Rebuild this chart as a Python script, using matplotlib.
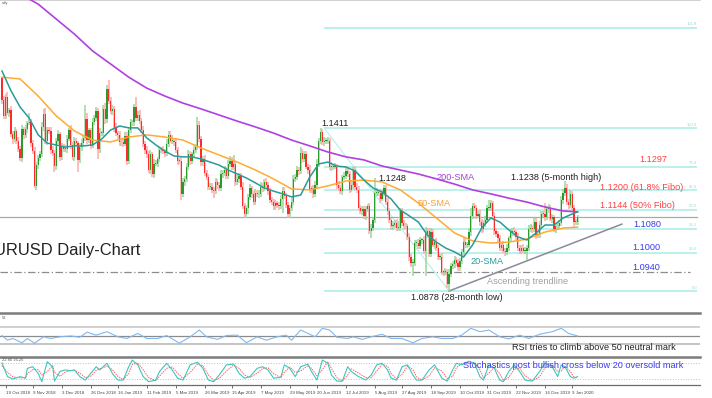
import matplotlib
matplotlib.use("Agg")
import matplotlib.pyplot as plt
import numpy as np

plt.rcParams['font.family'] = ['Liberation Sans', 'DejaVu Sans']

# ---- daily candles (prices x 1e4), 17 Oct 2018 -> 10 Jan 2020 ----
open0 = 11575
closes = [
    11503, 11452, 11513, 11462, 11470, 11392, 11375, 11402, 11370, 11343, 11312,
    11407, 11388, 11407, 11428, 11430, 11362, 11335, 11223, 11290, 11312, 11327,
    11416, 11456, 11370, 11405, 11403, 11338, 11330, 11288, 11370, 11392, 11316,
    11350, 11343, 11344, 11376, 11405, 11355, 11318, 11370, 11362, 11306, 11348,
    11362, 11380, 11442, 11372, 11404, 11354, 11431, 11443, 11467,
    11342, 11395, 11395, 11475, 11440, 11540, 11500, 11468, 11475, 11410, 11395,
    11390, 11365, 11365, 11360, 11385, 11305, 11405, 11430, 11430, 11480, 11445,
    11455, 11435, 11405, 11360, 11340, 11325, 11275, 11325, 11260, 11295, 11295,
    11310, 11340, 11340, 11335, 11330, 11360, 11390, 11370, 11370,
    11365, 11340, 11305, 11305, 11195, 11235, 11245, 11285, 11325, 11305, 11325,
    11340, 11350, 11420, 11375, 11300, 11310, 11265, 11250, 11220, 11220,
    11210, 11205, 11235, 11225, 11215, 11260, 11265, 11275, 11255, 11295, 11305,
    11285, 11295, 11235, 11245, 11255, 11220, 11155, 11130, 11150, 11185, 11215,
    11195, 11170, 11200, 11195, 11195, 11220, 11215, 11235, 11225, 11205, 11175,
    11170, 11155, 11165, 11160, 11155, 11180, 11205, 11190, 11160, 11130, 11150, 11170,
    11245, 11250, 11275, 11270, 11330, 11310, 11325, 11285, 11275, 11210, 11215,
    11195, 11225, 11295, 11370, 11400, 11365, 11370, 11370, 11370,
    11285, 11285, 11285, 11285, 11225, 11215, 11205, 11250, 11255, 11270, 11260,
    11210, 11225, 11275, 11220, 11210, 11150, 11140, 11145, 11125, 11145, 11155, 11075,
    11085, 11110, 11200, 11200, 11200, 11180, 11200, 11215, 11170, 11140, 11110,
    11090, 11095, 11100, 11085, 11085, 11140, 11100, 11090, 11090, 11055, 10990,
    10970, 10970, 11035, 11035, 11025, 11045, 11045, 11010, 11065, 11075, 11000,
    11070, 11030, 11040, 11020, 10990, 10990, 10940, 10940, 10940, 10900,
    10935, 10960, 10965, 10980, 10970, 10955, 10975, 11005, 11040, 11030, 11030,
    11070, 11125, 11155, 11150, 11125, 11130, 11105, 11080, 11100, 11110, 11150, 11150,
    11165, 11125, 11075, 11065, 11050, 11020, 11030, 11010, 11005, 11020, 11050,
    11070, 11075, 11070, 11055, 11020, 11010, 11020, 11010, 11010, 11020,
    11080, 11085, 11080, 11105, 11060, 11065, 11095, 11130, 11130, 11120, 11145,
    11150, 11115, 11120, 11080, 11090, 11090, 11100, 11175, 11200, 11215,
    11170, 11160, 11195, 11150, 11105, 11105, 11120,
]
wick_up = [
    5, 12, 10, 15, 8, 14, 9, 12, 7, 11, 10, 13, 9, 15, 8, 30, 12, 10, 14, 9,
    11, 8, 16, 17, 22, 10, 9, 12, 14, 8, 10, 13, 7, 12, 9, 11, 14, 8, 16, 10,
    12, 9, 8, 15, 13, 10, 44, 18, 9, 8, 14, 10, 12, 9, 16, 8, 11, 20, 12, 30,
    14, 11, 9, 18, 8, 12, 10, 9, 13, 15, 10, 12, 8, 9, 34, 11, 14, 10, 12, 9,
    12, 10, 16, 9, 14, 11, 8, 13, 10, 12, 9, 14, 11, 12, 17, 10, 13, 9, 8, 15,
    12, 9, 11, 14, 10, 8, 12, 9, 28, 16, 10, 9, 13, 8, 11, 10, 12, 9, 14, 11,
    10, 13, 9, 12, 8, 11, 14, 10, 29, 9, 12, 8, 10, 14, 11, 9, 12, 13, 8, 10,
    11, 9, 12, 14, 10, 8, 13, 9, 11, 10, 8, 12, 9, 10, 11, 14, 12, 9, 10, 8,
    11, 14, 10, 12, 9, 18, 13, 10, 12, 9, 14, 8, 11, 12, 16, 10, 13, 9, 12, 10,
    11, 9, 14, 10, 12, 8, 13, 10, 9, 12, 14, 11, 10, 12, 9, 13, 10, 11, 8, 12,
    10, 12, 9, 11, 13, 10, 49, 14, 9, 12, 10, 11, 9, 13, 10, 8, 12, 9, 14, 22,
    10, 11, 9, 12, 8, 14, 10, 12, 9, 11, 13, 10, 8, 12, 22, 10, 9, 13, 11, 8,
    12, 9, 10, 11, 8, 13, 9, 14, 11, 10, 12, 9, 13, 10, 11, 14, 12, 10, 13, 24,
    10, 12, 9, 11, 13, 8, 10, 12, 9, 25, 11, 9, 12, 10, 8, 11, 9, 13, 10, 12,
    9, 11, 10, 12, 8, 13, 9, 10, 11, 12, 10, 14, 12, 9, 11, 13, 10, 12, 9, 11,
    36, 10, 12, 9, 11, 8, 10, 13, 12, 14, 11, 24, 12, 10, 14, 9, 11, 10, 8,
]
wick_dn = [
    13, 10, 12, 9, 14, 11, 16, 8, 12, 10, 9, 12, 14, 10, 11, 8, 12, 10, 7, 13,
    12, 9, 10, 14, 11, 15, 10, 12, 9, 21, 13, 10, 12, 9, 11, 10, 13, 8, 12, 10,
    14, 11, 37, 10, 12, 9, 11, 13, 10, 12, 9, 11, 10, 33, 12, 10, 9, 14, 11, 10,
    12, 13, 10, 9, 14, 11, 12, 10, 9, 16, 12, 10, 11, 13, 9, 10, 12, 11, 10, 13,
    11, 12, 14, 10, 13, 9, 12, 10, 11, 9, 13, 10, 12, 9, 11, 12, 10, 13, 11, 19,
    10, 12, 9, 11, 13, 10, 12, 9, 11, 10, 14, 12, 9, 10, 13, 11, 12, 22, 10, 12,
    9, 11, 13, 10, 12, 9, 11, 10, 12, 13, 10, 12, 11, 9, 13, 12, 19, 10, 12, 9,
    11, 10, 12, 9, 13, 10, 11, 12, 9, 10, 13, 11, 10, 12, 9, 48, 11, 10, 12, 13,
    10, 12, 11, 9, 13, 10, 12, 11, 9, 13, 10, 12, 14, 9, 11, 10, 12, 9, 11, 10,
    12, 10, 13, 11, 9, 12, 10, 11, 13, 9, 12, 10, 11, 9, 13, 10, 12, 11, 10, 12,
    11, 13, 10, 12, 25, 9, 11, 10, 12, 13, 9, 11, 10, 12, 9, 11, 13, 10, 12, 11,
    12, 10, 13, 9, 11, 14, 12, 44, 10, 12, 11, 9, 13, 10, 83, 12, 10, 11, 9, 13,
    10, 12, 9, 11, 13, 10, 12, 21, 11, 9, 12, 10, 13, 11, 9, 12, 10, 11, 9, 12,
    11, 10, 12, 9, 13, 11, 10, 12, 9, 11, 10, 12, 13, 9, 11, 10, 12, 9, 11, 10,
    12, 10, 11, 13, 9, 10, 12, 11, 9, 10, 29, 12, 10, 11, 9, 13, 10, 12, 11, 9,
    12, 10, 11, 9, 13, 10, 12, 11, 9, 10, 12, 11, 10, 12, 9, 11, 19, 10, 12,
]

# ---- moving averages ----
sma_long_bars = list(range(0, 311, 10)) + [318]
sma200 = [1.1876, 1.1850, 1.1817, 1.1768, 1.1719, 1.1664, 1.1621, 1.1578, 1.1542,
          1.1516, 1.1493, 1.1474, 1.1454, 1.1434, 1.1415, 1.1395, 1.1372, 1.1353,
          1.1333, 1.1317, 1.1307, 1.1287, 1.1274, 1.1261, 1.1245, 1.1228, 1.1209,
          1.1196, 1.1182, 1.1169, 1.1153, 1.1140, 1.1137]
sma50 = [1.1578, 1.1572, 1.1516, 1.1451, 1.1402, 1.1372, 1.1366, 1.1382, 1.1389,
         1.1382, 1.1372, 1.1346, 1.1323, 1.1300, 1.1274, 1.1245, 1.1212, 1.1209,
         1.1222, 1.1238, 1.1241, 1.1235, 1.1209, 1.1166, 1.1117, 1.1068, 1.1042,
         1.1035, 1.1038, 1.1048, 1.1071, 1.1084, 1.1087]
sma20_bars = list(range(0, 316, 5)) + [318]
sma20 = [1.1598, 1.1533, 1.1480, 1.1444, 1.1389, 1.1362, 1.1356, 1.1349, 1.1353,
         1.1353, 1.1356, 1.1375, 1.1405, 1.1418, 1.1412, 1.1412, 1.1379, 1.1356,
         1.1336, 1.1320, 1.1317, 1.1317, 1.1310, 1.1300, 1.1290, 1.1274, 1.1261,
         1.1248, 1.1232, 1.1215, 1.1205, 1.1196, 1.1186, 1.1192, 1.1251, 1.1294,
         1.1300, 1.1287, 1.1284, 1.1271, 1.1241, 1.1215, 1.1202, 1.1179, 1.1143,
         1.1124, 1.1104, 1.1061, 1.1038, 1.1019, 1.1006, 1.0989, 1.1029, 1.1084,
         1.1117, 1.1104, 1.1078, 1.1055, 1.1045, 1.1068, 1.1094, 1.1094, 1.1117,
         1.1130, 1.1137]

# ---- RSI ----
rsi_bars = [0, 3, 6, 11, 14, 18, 23, 27, 32, 38, 43, 47, 52, 58, 64, 69, 75, 80, 86,
            91, 98, 104, 109, 113, 119, 124, 130, 135, 141, 146, 152, 157, 160, 165,
            169, 173, 177, 181, 185, 191, 194, 199, 204, 210, 215, 221, 227, 232, 238,
            243, 249, 254, 259, 264, 269, 275, 280, 286, 291, 297, 304, 309, 313, 318]
rsi = [50, 39, 43, 33, 43, 32, 47, 43, 47, 49, 46, 58, 51, 59, 47, 43, 55, 43, 43,
       50, 32, 47, 63, 47, 41, 50, 51, 33, 47, 39, 47, 51, 39, 63,
       55, 47, 67, 63, 46, 43, 47, 41, 47, 53, 43, 43, 33, 43, 47,
       43, 43, 51, 67, 59, 63, 47, 42, 51, 43, 53, 59, 67, 55, 49]

# ---- Stochastics ----
sto_bars = [0, 3, 6, 10, 13, 14, 17, 20, 22, 25, 28, 29, 32, 35, 38, 40, 43, 46, 49, 52,
            54, 58, 61, 64, 67, 70, 72, 75, 78, 81, 85, 87, 91, 94, 97, 100, 104, 108,
            111, 114, 117, 120, 124, 128, 131, 134, 137, 141, 144, 147, 150, 154, 156,
            159, 162, 165, 169, 171, 174, 177, 180, 182, 185, 188, 191, 193, 197, 201,
            204, 207, 210, 213, 215, 218, 221, 224, 227, 229, 232, 236, 239, 243, 246,
            249, 251, 254, 258, 261, 264, 266, 269, 272, 275, 277, 280, 283, 286, 289,
            293, 297, 300, 304, 307, 309, 311, 314, 316, 318]
sto_k = [80, 29, 20, 29, 23, 60, 66, 41, 10, 85, 66, 12, 48, 54, 51, 54, 29, 16, 41, 66,
         54, 79, 41, 16, 16, 66, 91, 73, 29, 10, 16, 48, 79, 54, 23, 16, 73, 83, 60, 16,
         10, 35, 73, 76, 41, 23, 29, 60, 66, 54, 23, 26, 73, 60, 29, 66, 76, 48, 16, 91,
         79, 35, 12, 12, 66, 48, 29, 16, 35, 73, 79, 54, 23, 16, 66, 73, 35, 16, 16, 54,
         73, 23, 12, 54, 79, 73, 87, 79, 29, 16, 73, 60, 16, 10, 48, 73, 48, 16, 12, 48,
         79, 66, 29, 73, 66, 29, 23, 29]
sto_d = [70, 45, 28, 24, 25, 40, 55, 55, 35, 48, 70, 45, 30, 46, 52, 53, 42, 25, 30, 52,
         58, 68, 55, 30, 18, 40, 75, 80, 55, 25, 14, 30, 60, 65, 42, 22, 45, 76, 70, 35,
         15, 22, 50, 72, 60, 35, 26, 42, 60, 62, 40, 25, 45, 65, 45, 50, 70, 60, 32, 55,
         85, 60, 25, 12, 35, 58, 42, 25, 25, 50, 75, 68, 40, 20, 38, 68, 55, 28, 16, 32,
         62, 50, 22, 30, 62, 78, 80, 83, 55, 25, 42, 64, 40, 14, 26, 58, 60, 32, 14, 28,
         62, 72, 48, 50, 68, 48, 28, 24]

# ---- levels ----
fib_levels = [1.0878, 1.1004, 1.1082, 1.11445, 1.1207, 1.1285, 1.1411, 1.1740]
fib_names = ["0.0", "23.6", "38.2", "50.0", "61.8", "76.4", "100.0", "161.8"]
last_price = 1.1120
support_line = 1.0940
trend_start = (247, 1.0878)
trend_end = (342.5, 1.1097)

tick_bars = [2, 17, 33, 49, 64, 80, 96, 112, 127, 143, 159, 174, 190, 206, 221, 237,
             253, 268, 284, 300, 315]
tick_labels = ["19 Oct 2018", "9 Nov 2018", "3 Dec 2018", "26 Dec 2018", "16 Jan 2019",
               "11 Feb 2019", "5 Mar 2019", "26 Mar 2019", "15 Apr 2019", "7 May 2019",
               "29 May 2019", "20 Jun 2019", "12 Jul 2019", "5 Aug 2019", "27 Aug 2019",
               "18 Sep 2019", "10 Oct 2019", "31 Oct 2019", "22 Nov 2019", "16 Dec 2019",
               "9 Jan 2020"]

# ---- build OHLC ----
c = np.array(closes) / 1e4
o = np.r_[open0 / 1e4, c[:-1]]
hi = np.maximum(o, c) + np.array(wick_up) / 1e4
lo = np.minimum(o, c) - np.array(wick_dn) / 1e4
x = np.arange(len(c))
up = c >= o

W, H = 712, 398
fig = plt.figure(figsize=(W / 100, H / 100), dpi=100)
fig.patch.set_facecolor('white')

xmin, xmax = -2 / 1.81, 698 / 1.81
aw = 700 / W
ax = fig.add_axes([0, 85 / H, aw, 313 / H])
ax_r = fig.add_axes([0, 41 / H, aw, 44 / H])
ax_s = fig.add_axes([0, 13 / H, aw, 28 / H])

for a in (ax, ax_r, ax_s):
    a.set_xlim(xmin, xmax)
    a.set_facecolor('none')
    for s in a.spines.values():
        s.set_visible(False)
    a.set_yticks([])
    a.set_xticks([])

# main panel
ax.set_ylim(1.0806, 1.18305)
ax.spines['top'].set_visible(True)
ax.spines['top'].set_color('#c8c8c8')
ax.spines['top'].set_linewidth(1.2)

ax.hlines(fib_levels, 178, 384, colors='#b4efe9', lw=1.3, zorder=1)
ax.plot([178, 247], [1.1411, 1.0878], color='#b4efe9', lw=0.8, zorder=1)
for lv, nm in zip(fib_levels, fib_names):
    ax.text(384, lv + 0.0004, nm, fontsize=3, color='#9ad8d0', ha='right', va='bottom')
ax.axhline(last_price, 0, 697 / 700, color='#a8a8b0', lw=0.9, zorder=1)
ax.axhline(support_line, 0, 690 / 700, color='#8c8c8c', lw=0.9,
           dashes=(6, 2, 1, 2), zorder=1)
ax.plot([trend_start[0], trend_end[0]], [trend_start[1], trend_end[1]],
        color='#8a8a9a', lw=1.1, zorder=2)

ax.vlines(x[up], lo[up], hi[up], colors='#9fd49f', lw=1.1, zorder=3)
ax.vlines(x[~up], lo[~up], hi[~up], colors='#ffaaaa', lw=1.1, zorder=3)
body = np.where(np.abs(c - o) < 0.0002, 0.0002, np.abs(c - o))
ax.bar(x[up], body[up], bottom=np.minimum(o, c)[up], width=0.7, color='#2a9a2a',
       lw=0, zorder=4)
ax.bar(x[~up], body[~up], bottom=np.minimum(o, c)[~up], width=0.7, color='#ff2a2a',
       lw=0, zorder=4)

ax.plot(sma_long_bars, sma200, color='#b040e0', lw=1.2, zorder=5)
ax.plot(sma_long_bars, sma50, color='#ffaa33', lw=1.1, zorder=5)
ax.plot(sma20_bars, sma20, color='#2a9a9a', lw=1.1, zorder=5)

# RSI panel
ax_r.set_ylim(-0.5, 103)
ax_r.spines['top'].set_visible(True)
ax_r.spines['top'].set_color('#7c7c7c')
ax_r.spines['top'].set_linewidth(1.8)
ax_r.axhline(70, color='#d0d0d0', lw=1.4)
ax_r.axhline(30, color='#c4c4c4', lw=1.4)
ax_r.axhline(50, color='#8c8c8c', lw=0.9)
ax_r.plot(rsi_bars, rsi, color='#80b8f0', lw=0.8)

# Stochastic panel
ax_s.set_ylim(-2.5, 102.5)
ax_s.spines['top'].set_visible(True)
ax_s.spines['top'].set_color('#7c7c7c')
ax_s.spines['top'].set_linewidth(1.8)
ax_s.spines['bottom'].set_visible(True)
ax_s.spines['bottom'].set_color('#6c6c6c')
ax_s.spines['bottom'].set_linewidth(0.9)
ax_s.axhline(80, color='#c0c0c0', lw=0.7, ls=':')
ax_s.axhline(20, color='#c0c0c0', lw=0.7, ls=':')
ax_s.plot(sto_bars, sto_d, color='#ff6060', lw=0.7, ls=(0, (1.5, 1)))
ax_s.plot(sto_bars, sto_k, color='#40c4c0', lw=0.8)
ax_s.set_xticks(tick_bars)
ax_s.set_xticklabels(tick_labels, fontsize=3.2, color='#444444', ha='left')
ax_s.tick_params(axis='x', length=2.5, width=0.6, color='#555555', pad=1.5)


def label(px, py, s, **kw):
    return fig.text(px / W, 1 - py / H, s, va='center', **kw)


fs = 6.6
label(321, 123, "1.1411", fontsize=fs, color='#222222')
label(378, 178, "1.1248", fontsize=fs, color='#222222')
label(436, 177, "200-SMA", fontsize=fs, color='#a040d8')
label(418, 203, "50-SMA", fontsize=fs, color='#f5a030')
label(470, 262, "20-SMA", fontsize=fs, color='#2a9a9a')
label(487, 281, "Ascending trendline", fontsize=fs, color='#a0a0a0')
label(411, 297, "1.0878 (28-month low)", fontsize=fs, color='#222222')
label(511, 177, "1.1238 (5-month high)", fontsize=fs, color='#222222')
label(639, 159, "1.1297", fontsize=fs, color='#ff4040')
label(600, 187, "1.1200 (61.8% Fibo)", fontsize=fs, color='#ff4040')
label(600, 206, "1.1144 (50% Fibo)", fontsize=fs, color='#ff4040')
label(633, 225, "1.1080", fontsize=fs, color='#3a3aee')
label(632, 248, "1.1000", fontsize=fs, color='#3a3aee')
label(632, 267, "1.0940", fontsize=fs, color='#3a3aee')
label(512, 348, "RSI tries to climb above 50 neutral mark", fontsize=fs, color='#222222')
label(463, 366, "Stochastics post bullish cross below 20 oversold mark", fontsize=fs,
      color='#3a3aee')
label(2, 3, "sdy", fontsize=3, color='#555555')
label(2, 318, "52", fontsize=3, color='#555555')
label(2, 360, "22.80 16.25", fontsize=3, color='#555555')

# title: the original is clipped by the image's left edge so only part of the
# first "U" shows; measure the text so "R" starts at x = 6 px and it ends at 140 px
rend = fig.canvas.get_renderer()
probe = fig.text(0, 0, "RUSD Daily-Chart", fontsize=12)
w_tail = probe.get_window_extent(rend).width
probe.set_text("EURUSD Daily-Chart")
w_full = probe.get_window_extent(rend).width
probe.remove()
tfs = 12 * 134 / w_tail
lead = (w_full - w_tail) * tfs / 12
label(6 - lead, 250, "EURUSD Daily-Chart", fontsize=tfs, color='#222222', ha='left')

fig.savefig("out.png", dpi=100, facecolor='white')
